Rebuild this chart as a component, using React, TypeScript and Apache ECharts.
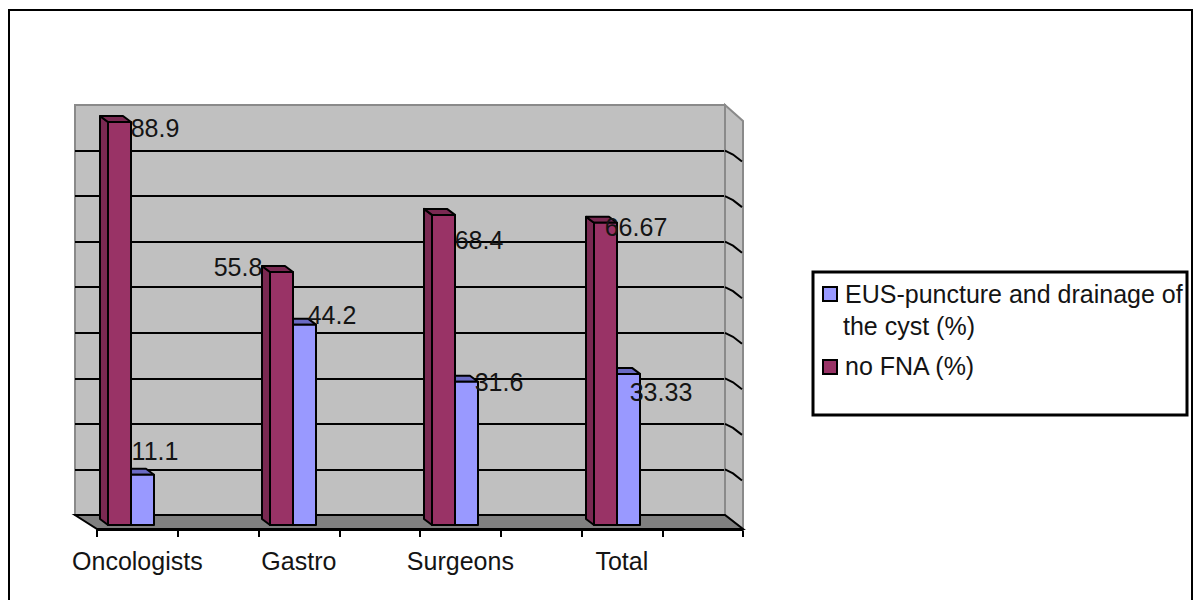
import React, { useEffect, useRef } from "react";
import * as echarts from "echarts";

const categories = ["Oncologists", "Gastro", "Surgeons", "Total"];
const noFna = [88.9, 55.8, 68.4, 66.67];
const eusPuncture = [11.1, 44.2, 31.6, 33.33];
const gridTicks = [10, 20, 30, 40, 50, 60, 70, 80];
const seriesNames = ["EUS-puncture and drainage of the cyst (%)", "no FNA (%)"];
const legendLines = ["EUS-puncture and drainage of", "the cyst (%)", "no FNA (%)"];

// Hand-placed label offsets from the bar's top, as in the original spreadsheet chart.
const noFnaLabelOffsets = [[24, 6], [-55, -5], [24, 25], [19, 4]];
const eusLabelOffsets = [[24, -24], [39, -10], [44, 0], [44, 18]];

const FONT = "'Liberation Sans', Arial, sans-serif";
const TEXT = "#141414";
const FS = 25;
const DEPTH_X = 8;
const DEPTH_Y = 6;
const BAR_W = 23;

function boxSeries(name: string, values: number[], offsets: number[][], side: number, front: string, dark: string) {
  return {
    type: "custom",
    name,
    xAxisIndex: 1,
    yAxisIndex: 1,
    z: side < 0 ? 4 : 3,
    clip: false,
    data: values.map((v, i) => [i, v]),
    renderItem: (_: any, api: any) => {
      const i = api.value(0);
      const v = api.value(1);
      const [cx, top] = api.coord([i, v]);
      const [, base] = api.coord([i, 0]);
      const x0 = side < 0 ? cx - BAR_W : cx;
      const x1 = x0 + BAR_W;
      const stroke = { stroke: "#000", lineWidth: 2, lineJoin: "round" };
      const [ox, oy] = offsets[i];
      return {
        type: "group",
        children: [
          {
            type: "polygon",
            shape: { points: [[x0, top], [x0 - DEPTH_X, top - DEPTH_Y], [x0 - DEPTH_X, base - DEPTH_Y], [x0, base]] },
            style: { fill: dark, ...stroke },
          },
          {
            type: "polygon",
            shape: { points: [[x0, top], [x0 - DEPTH_X, top - DEPTH_Y], [x1 - DEPTH_X, top - DEPTH_Y], [x1, top]] },
            style: { fill: dark, ...stroke },
          },
          {
            type: "rect",
            shape: { x: x0, y: top, width: BAR_W, height: base - top },
            style: { fill: front, ...stroke },
          },
          {
            type: "text",
            z2: 10,
            style: {
              x: cx + ox,
              y: top + oy,
              text: String(v),
              fill: TEXT,
              fontSize: FS,
              fontFamily: FONT,
              align: "center",
              verticalAlign: "middle",
            },
          },
        ],
      };
    },
  };
}

function legendText(text: string, x: number, y: number) {
  return {
    type: "text",
    x,
    y,
    z: 20,
    style: { text, fill: TEXT, fontSize: FS, fontFamily: FONT, align: "left", verticalAlign: "middle" },
  };
}

export default function App() {
  const ref = useRef<HTMLDivElement>(null);
  useEffect(() => {
    const chart = echarts.init(ref.current!, null, { renderer: "svg" });
    const wallEdge = { stroke: "#8a8a8a", lineWidth: 2 };
    chart.setOption({
      animation: false,
      backgroundColor: "#fff",
      tooltip: { show: false },
      grid: [
        { left: 75, top: 105, width: 650, height: 410, show: true, backgroundColor: "#c0c0c0", borderColor: "#8a8a8a", borderWidth: 2 },
        { left: 50, top: 117, width: 648, height: 408 },
        { left: 97, top: 529, width: 646, height: 1 },
      ],
      xAxis: [
        { gridIndex: 0, type: "category", show: false, data: categories },
        { gridIndex: 1, type: "category", show: false, data: categories },
        {
          gridIndex: 2,
          type: "category",
          data: categories.flatMap((c) => [c, ""]),
          axisLine: { show: true, lineStyle: { color: "#000", width: 2 } },
          axisTick: { show: true, length: 7, lineStyle: { color: "#000", width: 2 } },
          axisLabel: { interval: 0, color: TEXT, fontSize: FS, fontFamily: FONT, margin: 18 },
        },
      ],
      yAxis: [
        {
          gridIndex: 0,
          type: "value",
          min: 0,
          max: 90,
          interval: 10,
          axisLine: { show: false },
          axisTick: { show: false },
          axisLabel: { show: false },
          splitLine: { show: true, showMaxLine: false, lineStyle: { color: "#000", width: 2 } },
        },
        { gridIndex: 1, type: "value", show: false, min: 0, max: 90, interval: 10, splitLine: { show: false } },
        { gridIndex: 2, type: "value", show: false, min: 0, max: 1, splitLine: { show: false } },
      ],
      graphic: [
        {
          type: "rect",
          z: -1,
          shape: { x: 9, y: 10, width: 1183, height: 620 },
          style: { fill: "#fff", stroke: "#000", lineWidth: 2 },
          silent: true,
        },
        {
          type: "polygon",
          z: 1,
          shape: { points: [[725, 105], [743, 121], [743, 529], [725, 515]] },
          style: { fill: "#c0c0c0", ...wallEdge },
          silent: true,
        },
        {
          type: "polygon",
          z: 1,
          shape: { points: [[75, 515], [725, 515], [743, 529], [97, 529]] },
          style: { fill: "#808080", stroke: "#000", lineWidth: 2 },
          silent: true,
        },
        {
          type: "rect",
          z: 19,
          shape: { x: 813, y: 272, width: 374, height: 143 },
          style: { fill: "#fff", stroke: "#000", lineWidth: 3 },
          silent: true,
        },
        {
          type: "rect",
          z: 20,
          shape: { x: 823, y: 287, width: 14, height: 14 },
          style: { fill: "#9999ff", stroke: "#000", lineWidth: 2 },
          silent: true,
        },
        {
          type: "rect",
          z: 20,
          shape: { x: 823, y: 360, width: 14, height: 14 },
          style: { fill: "#993366", stroke: "#000", lineWidth: 2 },
          silent: true,
        },
        legendText(legendLines[0], 845, 294),
        legendText(legendLines[1], 843, 326),
        legendText(legendLines[2], 845, 366),
      ],
      series: [
        {
          type: "custom",
          xAxisIndex: 0,
          yAxisIndex: 0,
          z: 2,
          clip: false,
          silent: true,
          data: gridTicks.map((v) => [0, v]),
          renderItem: (params: any, api: any) => {
            const [, y] = api.coord([0, api.value(1)]);
            const right = params.coordSys.x + params.coordSys.width;
            return {
              type: "polyline",
              shape: { points: [[right, y], [right + 8, y + 4], [right + 17, y + 11]] },
              style: { stroke: "#000", lineWidth: 2, fill: "none" },
            };
          },
        },
        boxSeries(seriesNames[0], eusPuncture, eusLabelOffsets, 1, "#9999ff", "#6a6ac4"),
        boxSeries(seriesNames[1], noFna, noFnaLabelOffsets, -1, "#993366", "#7a2952"),
      ],
    });
    return () => chart.dispose();
  }, []);
  return <div ref={ref} style={{ position: "absolute", left: 0, top: 0, width: 1198, height: 600 }} />;
}
